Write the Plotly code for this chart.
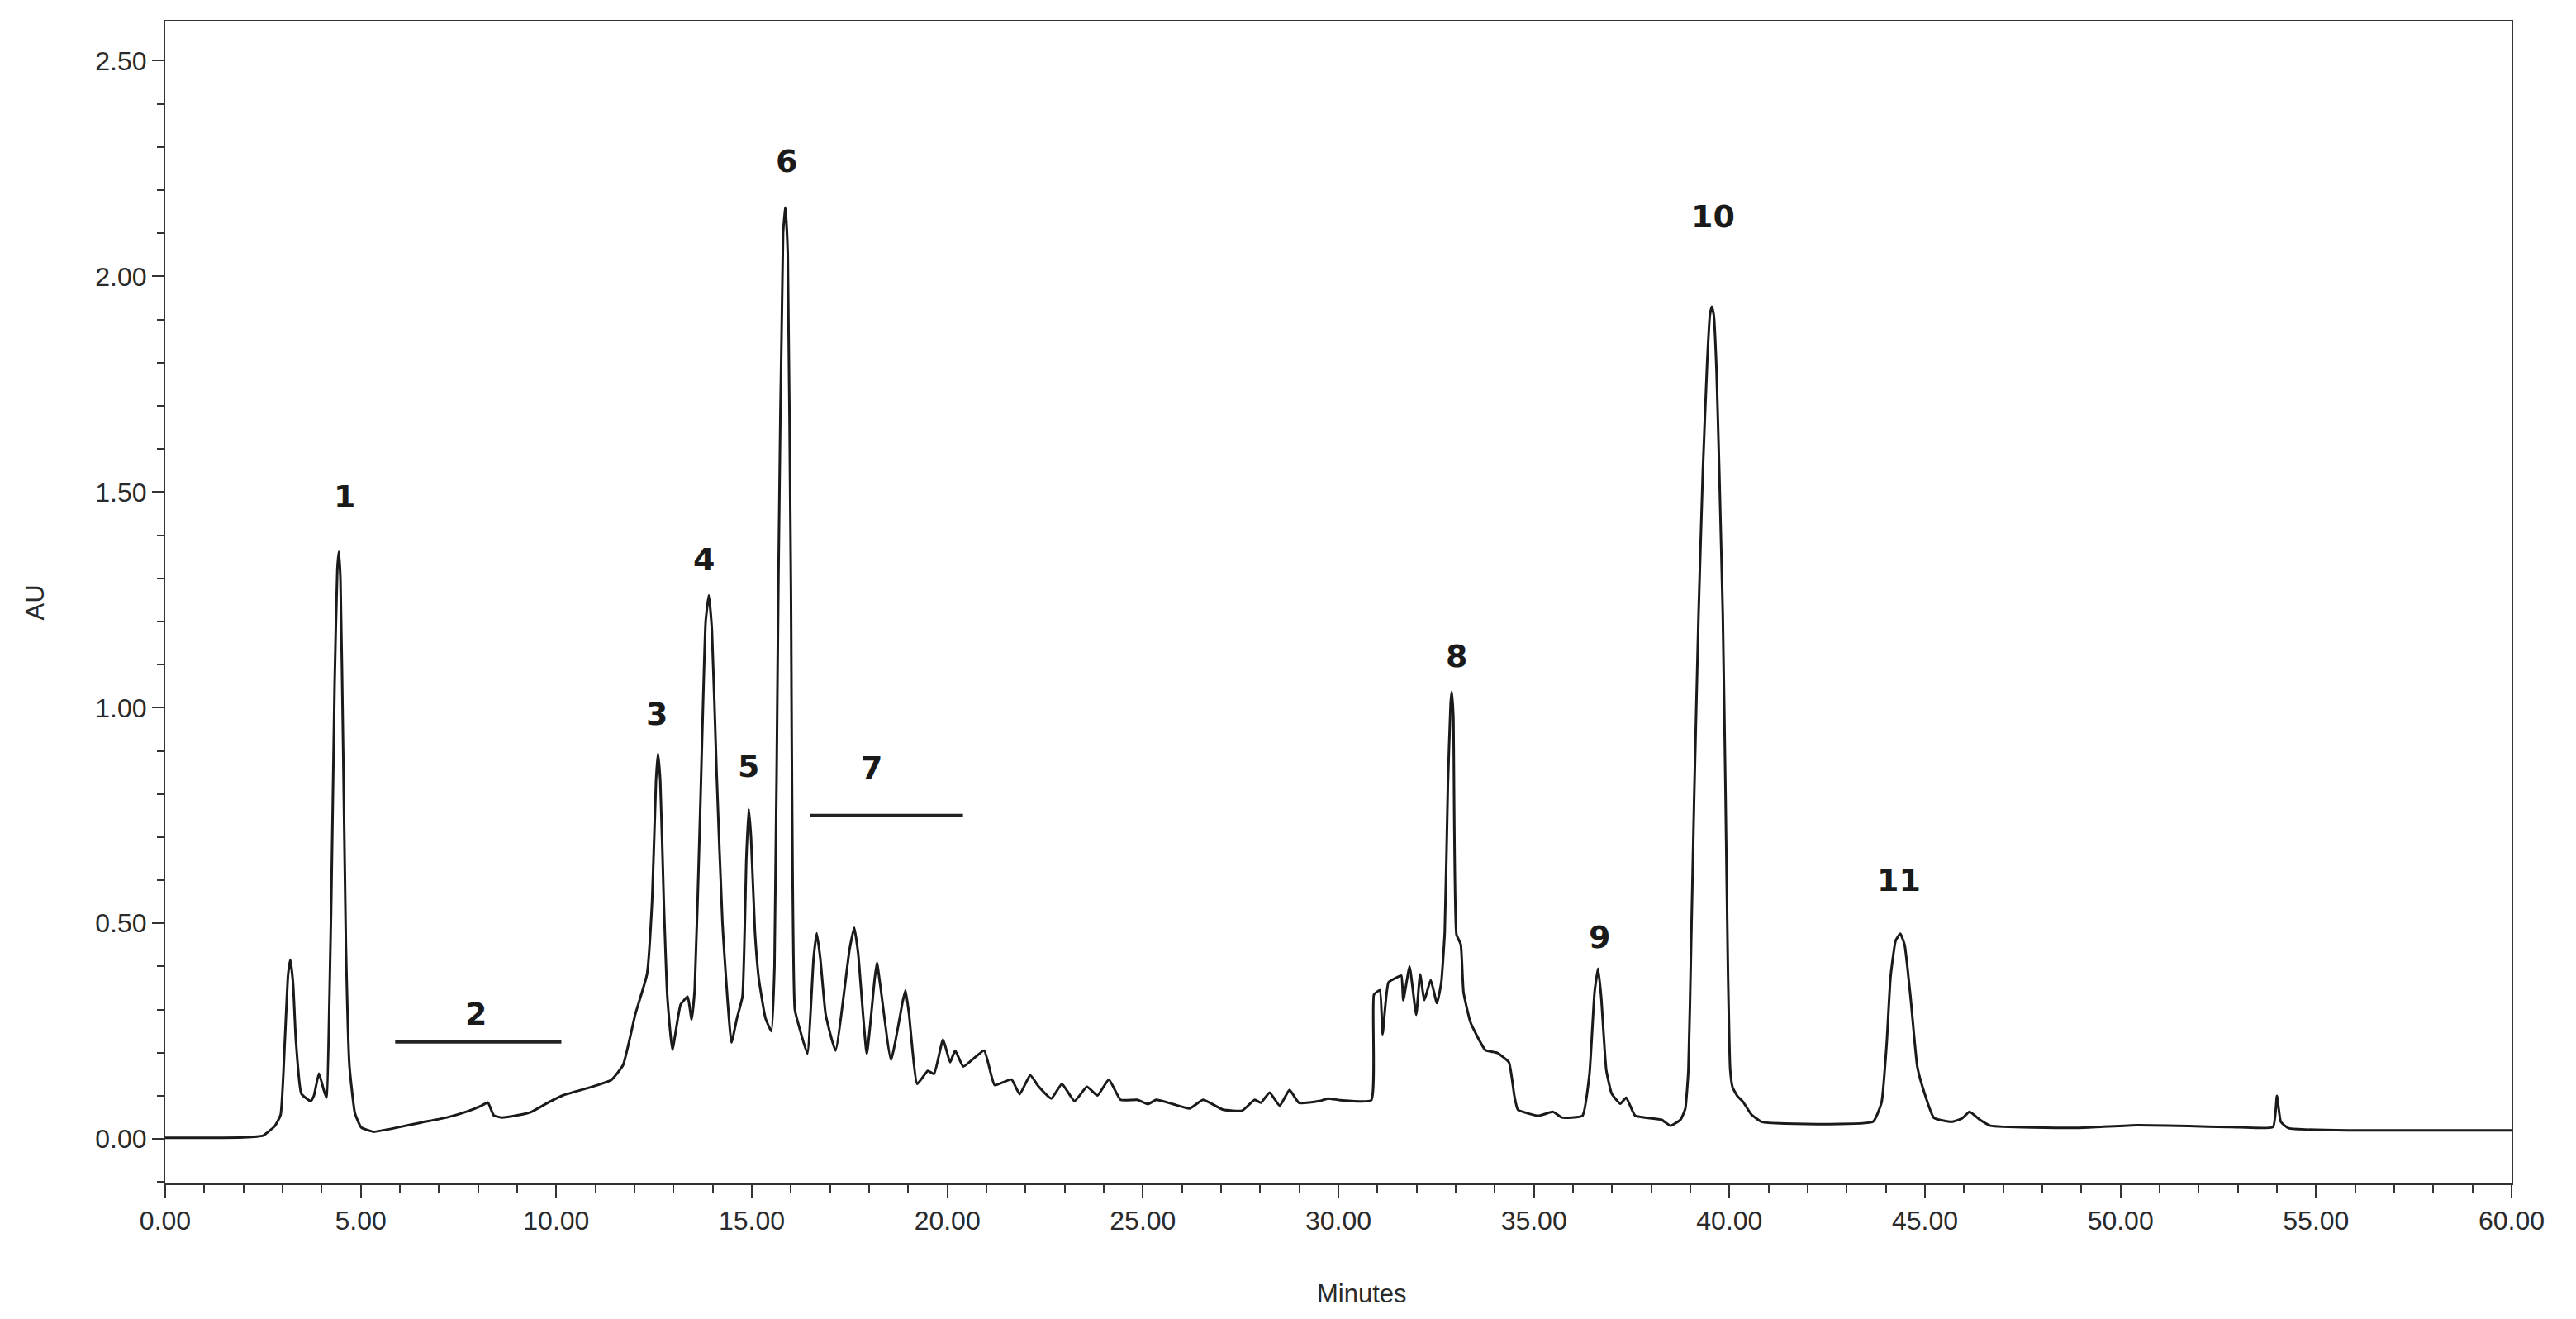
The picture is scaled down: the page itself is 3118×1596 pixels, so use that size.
import plotly.graph_objects as go

# chromatogram trace (minutes, AU)
minutes = [
    0.00, 1.00, 2.00, 2.50, 2.80, 2.95, 3.06, 3.14, 3.20, 3.27, 3.34, 3.48, 3.72, 3.80, 3.93, 4.05,
    4.12, 4.24, 4.33, 4.40, 4.44, 4.48, 4.55, 4.62, 4.71, 4.85, 5.01, 5.32, 6.00, 6.53, 7.20, 7.75,
    8.10, 8.25, 8.40, 8.60, 9.00, 9.34, 9.80, 10.19, 10.80, 11.41, 11.71, 12.02, 12.32, 12.45,
    12.55, 12.60, 12.66, 12.75, 12.84, 12.97, 13.18, 13.36, 13.46, 13.54, 13.68, 13.82, 13.90,
    13.98, 14.10, 14.25, 14.48, 14.62, 14.76, 14.86, 14.92, 14.98, 15.08, 15.18, 15.35, 15.50,
    15.58, 15.68, 15.80, 15.86, 15.92, 16.00, 16.10, 16.22, 16.42, 16.58, 16.66, 16.75, 16.89,
    17.14, 17.50, 17.62, 17.72, 17.94, 18.14, 18.20, 18.28, 18.56, 18.86, 18.93, 19.02, 19.23,
    19.50, 19.66, 19.89, 20.07, 20.20, 20.41, 20.94, 21.21, 21.64, 21.85, 22.12, 22.34, 22.66,
    22.93, 23.25, 23.57, 23.84, 24.13, 24.43, 24.86, 25.13, 25.34, 25.77, 26.20, 26.54, 27.05,
    27.54, 27.86, 28.02, 28.24, 28.50, 28.75, 28.99, 29.52, 29.73, 30.06, 30.84, 30.91, 31.06,
    31.13, 31.28, 31.50, 31.61, 31.66, 31.82, 31.99, 32.09, 32.20, 32.36, 32.52, 32.63, 32.72,
    32.80, 32.87, 32.90, 32.94, 33.02, 33.13, 33.20, 33.38, 33.76, 34.06, 34.36, 34.50, 34.59,
    35.11, 35.49, 35.71, 36.24, 36.42, 36.55, 36.64, 36.72, 36.85, 36.99, 37.21, 37.36, 37.59,
    38.26, 38.49, 38.75, 38.87, 38.95, 39.02, 39.10, 39.21, 39.32, 39.43, 39.50, 39.55, 39.60,
    39.67, 39.74, 39.83, 39.90, 39.96, 40.02, 40.08, 40.20, 40.35, 40.56, 40.82, 41.41, 43.67,
    43.89, 44.02, 44.12, 44.25, 44.37, 44.48, 44.63, 44.80, 44.93, 45.23, 45.68, 45.95, 46.14,
    46.40, 46.67, 48.93, 50.43, 52.83, 53.90, 54.00, 54.10, 54.30, 56.00, 60.00,
]
absorbance = [
    0.003, 0.003, 0.004, 0.008, 0.030, 0.056, 0.230, 0.380, 0.416, 0.360, 0.230, 0.105, 0.088, 0.100, 0.152, 0.115,
    0.096, 0.520, 1.050, 1.320, 1.362, 1.300, 0.900, 0.450, 0.170, 0.060, 0.027, 0.017, 0.028, 0.038, 0.050, 0.065,
    0.078, 0.085, 0.055, 0.050, 0.055, 0.062, 0.085, 0.102, 0.118, 0.137, 0.172, 0.289, 0.382, 0.550,
    0.830, 0.894, 0.830, 0.550, 0.330, 0.207, 0.312, 0.330, 0.277, 0.347, 0.760, 1.200, 1.261,
    1.180, 0.850, 0.500, 0.224, 0.280, 0.330, 0.650, 0.766, 0.700, 0.480, 0.371, 0.280, 0.250,
    0.400, 1.290, 2.100, 2.160, 2.050, 1.290, 0.300, 0.257, 0.198, 0.420, 0.477, 0.420, 0.288,
    0.205, 0.440, 0.490, 0.430, 0.198, 0.370, 0.409, 0.360, 0.183, 0.320, 0.345, 0.290, 0.128,
    0.158, 0.151, 0.231, 0.178, 0.205, 0.168, 0.205, 0.125, 0.138, 0.104, 0.148, 0.121, 0.094,
    0.128, 0.088, 0.121, 0.101, 0.138, 0.091, 0.091, 0.081, 0.091, 0.081, 0.071, 0.091, 0.068,
    0.066, 0.091, 0.084, 0.108, 0.077, 0.114, 0.084, 0.088, 0.094, 0.090, 0.090, 0.335, 0.345,
    0.243, 0.363, 0.375, 0.379, 0.322, 0.400, 0.288, 0.382, 0.322, 0.369, 0.315, 0.362, 0.480,
    0.820, 1.010, 1.037, 0.980, 0.474, 0.451, 0.340, 0.270, 0.206, 0.200, 0.178, 0.100, 0.068,
    0.054, 0.063, 0.050, 0.054, 0.150, 0.340, 0.395, 0.330, 0.160, 0.105, 0.082, 0.096, 0.054,
    0.045, 0.031, 0.045, 0.070, 0.160, 0.450, 0.800, 1.216, 1.550, 1.800, 1.910, 1.930, 1.910,
    1.780, 1.550, 1.216, 0.800, 0.400, 0.160, 0.120, 0.100, 0.086, 0.057, 0.040, 0.036, 0.040,
    0.085, 0.220, 0.376, 0.460, 0.476, 0.450, 0.330, 0.170, 0.123, 0.049, 0.040, 0.048, 0.063,
    0.045, 0.031, 0.026, 0.032, 0.028, 0.028, 0.100, 0.040, 0.025, 0.020, 0.020,
]

# peak numbers and where they sit
peak_labels = ["1", "2", "3", "4", "5", "6", "7", "8", "9", "10", "11"]
peak_label_x = [4.58, 7.94, 12.56, 13.78, 14.92, 15.88, 18.07, 33.03, 36.68, 39.58, 44.33]
peak_label_y = [1.49, 0.29, 0.985, 1.343, 0.864, 2.268, 0.86, 1.119, 0.468, 2.139, 0.601]

# bars marking the grouped regions 2 and 7
range_start = [5.88, 16.5]
range_end = [10.13, 20.4]
range_level = [0.225, 0.75]

x_ticks = [0, 5, 10, 15, 20, 25, 30, 35, 40, 45, 50, 55, 60]
y_ticks = [0.0, 0.5, 1.0, 1.5, 2.0, 2.5]

fig = go.Figure()

fig.add_trace(go.Scatter(
    x=minutes,
    y=absorbance,
    mode="lines",
    line=dict(color="#1a1a1a", width=3, shape="spline", smoothing=0.4),
    showlegend=False,
))

for x0, x1, lvl in zip(range_start, range_end, range_level):
    fig.add_trace(go.Scatter(
        x=[x0, x1],
        y=[lvl, lvl],
        mode="lines",
        line=dict(color="#222222", width=4),
        showlegend=False,
    ))

for txt, px_, py_ in zip(peak_labels, peak_label_x, peak_label_y):
    fig.add_annotation(
        x=px_, y=py_, text=f"<b>{txt}</b>",
        showarrow=False,
        font=dict(family="DejaVu Sans", size=38, color="#1a1a1a"),
    )

# x title sits a little right of centre in the original
fig.add_annotation(
    x=0.51, y=-0.095, xref="paper", yref="paper",
    text="Minutes", showarrow=False, yanchor="middle",
    font=dict(family="Liberation Sans", size=31, color="#2a2a2a"),
)

axis_common = dict(
    showline=True,
    linecolor="#333333",
    linewidth=2,
    mirror=True,
    showgrid=False,
    zeroline=False,
    ticks="outside",
    tickcolor="#333333",
    tickfont=dict(family="Liberation Sans", size=32, color="#2a2a2a"),
)

fig.update_xaxes(
    **axis_common,
    range=[0, 60],
    tickvals=x_ticks,
    ticktext=[f"{v:.2f}" for v in x_ticks],
    ticklen=16,
    tickwidth=2,
    minor=dict(dtick=1, ticks="outside", ticklen=9, tickcolor="#333333", tickwidth=2),
)
fig.update_yaxes(
    **axis_common,
    range=[-0.103, 2.591],
    tickvals=y_ticks,
    ticktext=[f"{v:.2f}" for v in y_ticks],
    ticklen=14,
    tickwidth=2,
    minor=dict(dtick=0.1, ticks="outside", ticklen=8, tickcolor="#333333", tickwidth=2),
    title=dict(text="AU", font=dict(family="Liberation Sans", size=31, color="#2a2a2a"), standoff=52),
)

fig.update_layout(
    width=3118,
    height=1596,
    margin=dict(l=192, r=86, t=18, b=172, autoexpand=False),
    plot_bgcolor="white",
    paper_bgcolor="white",
)

fig.write_html("out.html")
